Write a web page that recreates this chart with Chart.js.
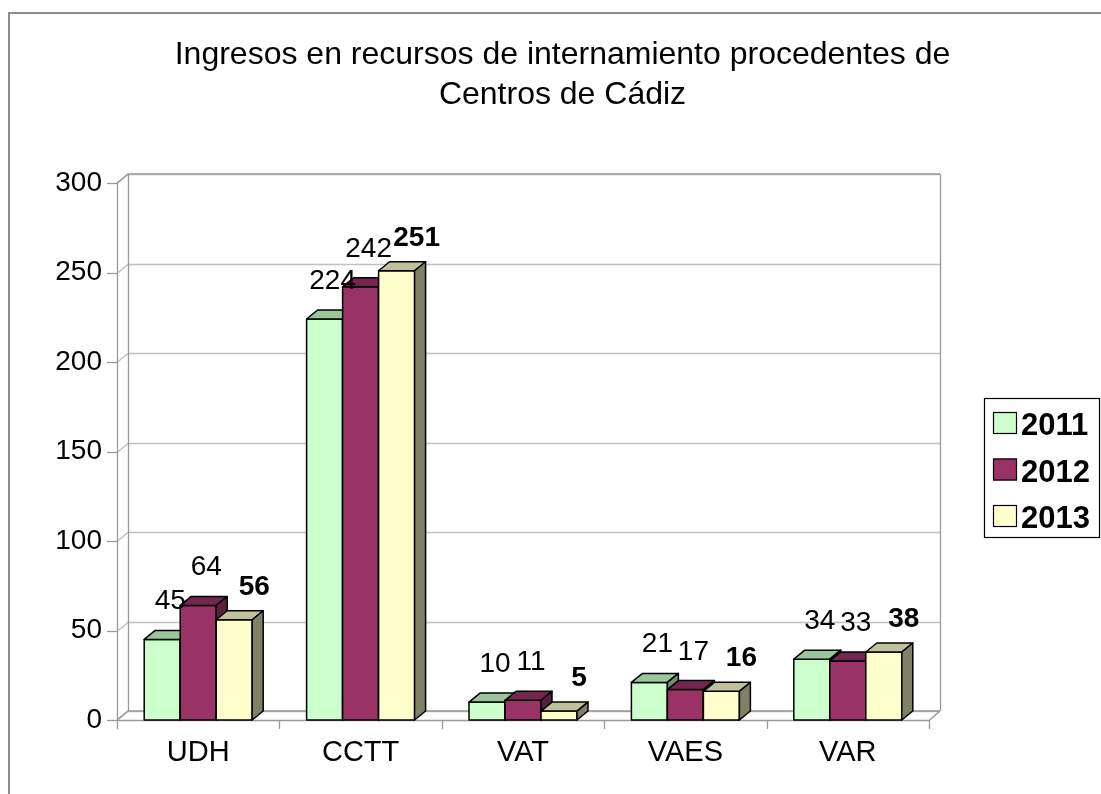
<!DOCTYPE html>
<html><head><meta charset="utf-8">
<script src="https://cdn.jsdelivr.net/npm/chart.js@4/dist/chart.umd.min.js"></script>
<style>html,body{margin:0;padding:0;background:#fff;overflow:hidden}</style>
</head><body>
<canvas id="c" width="1101" height="794"></canvas>
<script>
const categories = ['UDH', 'CCTT', 'VAT', 'VAES', 'VAR'];
const seriesNames = ['2011', '2012', '2013'];
const values2011 = [45, 224, 10, 21, 34];
const values2012 = [64, 242, 11, 17, 33];
const values2013 = [56, 251, 5, 16, 38];
const yTicks = [0, 50, 100, 150, 200, 250, 300];
const titleLines = ['Ingresos en recursos de internamiento procedentes de', 'Centros de Cádiz'];

const FONT = '"Liberation Sans", Arial, Helvetica, sans-serif';
const DX = 11, DY = -9;
const faceColors = [
  {front: '#CCFFCC', top: '#99C799', side: '#6F8F6F'},
  {front: '#993366', top: '#732650', side: '#5A1E3F'},
  {front: '#FFFFCC', top: '#C0C09A', side: '#808066'}
];
const labelShift = [-3, -3, 9];
const labelGap = [21, 21, 16];

const excel3d = {
  id: 'excel3d',
  beforeDraw(chart) {
    const ctx = chart.ctx;
    ctx.save();
    ctx.fillStyle = '#fff';
    ctx.fillRect(0, 0, chart.width, chart.height);
    ctx.strokeStyle = '#8c8c8c';
    ctx.lineWidth = 2;
    ctx.strokeRect(9, 13, 2000, 2000);
    ctx.restore();
  },
  beforeDatasetsDraw(chart) {
    const ctx = chart.ctx, ys = chart.scales.y, xs = chart.scales.x;
    const a = chart.chartArea;
    const L = a.left, R = a.right, T = ys.getPixelForValue(300), B = ys.getPixelForValue(0);
    ctx.save();
    ctx.lineWidth = 1.3;
    yTicks.forEach(v => {
      const fy = Math.round(ys.getPixelForValue(v)) + 0.5;
      ctx.strokeStyle = '#c0c0c0';
      ctx.beginPath();
      ctx.moveTo(L, fy); ctx.lineTo(L + DX, fy + DY); ctx.lineTo(R + DX, fy + DY);
      ctx.stroke();
      ctx.strokeStyle = '#999';
      ctx.beginPath();
      ctx.moveTo(L - 10, fy); ctx.lineTo(L, fy);
      ctx.stroke();
    });
    ctx.strokeStyle = '#999';
    ctx.beginPath();
    ctx.moveTo(L + 0.5, T); ctx.lineTo(L + 0.5, B);
    ctx.moveTo(L + DX + 0.5, T + DY); ctx.lineTo(L + DX + 0.5, B + DY);
    ctx.moveTo(R + DX + 0.5, T + DY); ctx.lineTo(R + DX + 0.5, B + DY);
    ctx.moveTo(L, T); ctx.lineTo(L + DX, T + DY); ctx.lineTo(R + DX, T + DY);
    ctx.moveTo(L, B + 0.5); ctx.lineTo(R, B + 0.5); ctx.lineTo(R + DX, B + DY);
    ctx.moveTo(L, B); ctx.lineTo(L + DX, B + DY); ctx.lineTo(R + DX, B + DY);
    ctx.stroke();
    for (let i = 0; i <= categories.length; i++) {
      const x = Math.round(xs.getPixelForValue(i - 0.5)) + 0.5;
      ctx.beginPath();
      ctx.moveTo(x, B); ctx.lineTo(x, B + 9);
      ctx.stroke();
    }
    ctx.restore();
  },
  beforeDatasetDraw() { return false; },
  afterDatasetsDraw(chart) {
    const ctx = chart.ctx;
    const n = chart.data.datasets.length;
    ctx.save();
    ctx.lineWidth = 1.5;
    ctx.strokeStyle = '#000';
    ctx.lineJoin = 'round';
    for (let i = 0; i < categories.length; i++) {
      for (let d = 0; d < n; d++) {
        const el = chart.getDatasetMeta(d).data[i];
        const p = el.getProps(['x', 'y', 'base', 'width'], true);
        const l = p.x - p.width / 2, r = p.x + p.width / 2, t = p.y, b = p.base;
        const c = faceColors[d];
        ctx.fillStyle = c.front;
        ctx.beginPath(); ctx.rect(l, t, r - l, b - t); ctx.fill(); ctx.stroke();
        ctx.fillStyle = c.top;
        ctx.beginPath();
        ctx.moveTo(l, t); ctx.lineTo(r, t); ctx.lineTo(r + DX, t + DY); ctx.lineTo(l + DX, t + DY); ctx.closePath();
        ctx.fill(); ctx.stroke();
        ctx.fillStyle = c.side;
        ctx.beginPath();
        ctx.moveTo(r, t); ctx.lineTo(r + DX, t + DY); ctx.lineTo(r + DX, b + DY); ctx.lineTo(r, b); ctx.closePath();
        ctx.fill(); ctx.stroke();
      }
    }
    ctx.fillStyle = '#000';
    ctx.textAlign = 'center';
    ctx.textBaseline = 'alphabetic';
    for (let d = 0; d < n; d++) {
      ctx.font = (d === 2 ? 'bold ' : '') + '28px ' + FONT;
      const vals = chart.data.datasets[d].data;
      chart.getDatasetMeta(d).data.forEach((el, i) => {
        const p = el.getProps(['x', 'y'], true);
        ctx.fillText(String(vals[i]), p.x + DX + labelShift[d], p.y + DY - labelGap[d]);
      });
    }
    ctx.restore();
  },
  afterDraw(chart) {
    const ctx = chart.ctx;
    ctx.save();
    ctx.strokeStyle = '#000';
    ctx.lineWidth = 1.2;
    ctx.strokeRect(984.5, 398.5, 115, 139);
    ctx.font = 'bold 31px ' + FONT;
    ctx.textAlign = 'left';
    ctx.textBaseline = 'alphabetic';
    chart.data.datasets.forEach((ds, d) => {
      const top = 412 + d * 46.5;
      ctx.fillStyle = faceColors[d].front;
      ctx.fillRect(993, top, 24, 22);
      ctx.strokeRect(993.5, top + 0.5, 23, 21);
      ctx.fillStyle = '#000';
      ctx.fillText(ds.label, 1021, top + 23);
    });
    ctx.restore();
  }
};

const chart = new Chart(document.getElementById('c'), {
  type: 'bar',
  data: {
    labels: categories,
    datasets: [
      {label: seriesNames[0], data: values2011, backgroundColor: faceColors[0].front},
      {label: seriesNames[1], data: values2012, backgroundColor: faceColors[1].front},
      {label: seriesNames[2], data: values2013, backgroundColor: faceColors[2].front}
    ]
  },
  options: {
    responsive: false,
    devicePixelRatio: 1,
    animation: false,
    layout: {padding: {left: 24, right: 0, top: 0, bottom: 0}},
    datasets: {bar: {categoryPercentage: 0.665, barPercentage: 1}},
    plugins: {
      legend: {display: false},
      tooltip: {enabled: false},
      title: {
        display: true,
        text: titleLines,
        color: '#000',
        font: {family: FONT, size: 32, weight: 'normal', lineHeight: 1.25},
        padding: {top: 35, bottom: 68}
      }
    },
    scales: {
      x: {
        grid: {display: false, drawTicks: false},
        border: {display: false},
        ticks: {color: '#000', font: {family: FONT, size: 29}, padding: 16, maxRotation: 0},
        afterFit(s) { s.height = 74; }
      },
      y: {
        min: 0, max: 300,
        grid: {display: false, drawTicks: false},
        border: {display: false},
        ticks: {stepSize: 50, color: '#000', font: {family: FONT, size: 28}, padding: 15},
        afterFit(s) { s.width = 93; }
      },
      yR: {
        position: 'right',
        display: true,
        grid: {display: false, drawTicks: false},
        border: {display: false},
        ticks: {display: false},
        afterFit(s) { s.width = 172; }
      }
    }
  },
  plugins: [excel3d]
});
</script>
</body></html>
